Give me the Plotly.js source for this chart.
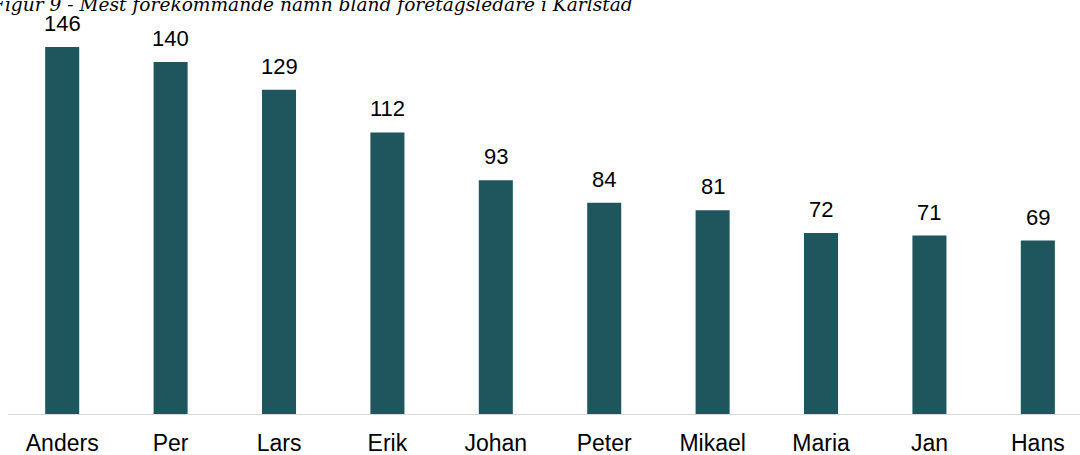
<!DOCTYPE html>
<html>
<head>
<meta charset="utf-8">
<script src="https://cdn.plot.ly/plotly-3.0.1.min.js"></script>
<style>html,body{margin:0;padding:0;overflow:hidden;background:#fff}#chart{width:1080px;height:455px}</style>
</head>
<body>
<div id="chart"></div>
<script>
const categories = ["Anders", "Per", "Lars", "Erik", "Johan", "Peter", "Mikael", "Maria", "Jan", "Hans"];
const values = [146, 140, 129, 112, 93, 84, 81, 72, 71, 69];
const titleText = "Figur 9 - Mest förekommande namn bland företagsledare i Karlstad";

const trace = {
  type: "bar",
  x: categories,
  y: values,
  width: 0.314,
  marker: { color: "#1F555C" },
  hoverinfo: "x+y"
};

const annotations = categories.map((c, i) => ({
  x: c, y: values[i], xref: "x", yref: "y",
  text: String(values[i]),
  showarrow: false, yanchor: "bottom", yshift: 9,
  font: { family: "Liberation Sans, Arial, sans-serif", size: 22, color: "#000000" }
}));
annotations.push({
  xref: "paper", yref: "paper", x: -0.0175, y: 1.0086,
  xanchor: "left", yanchor: "middle",
  text: "<i>" + titleText + "</i>", showarrow: false,
  font: { family: "DejaVu Serif, serif", size: 18.6, color: "#000000" }
});

const layout = {
  width: 1080, height: 455,
  margin: { l: 8, r: 0, t: 8, b: 41 },
  paper_bgcolor: "#ffffff", plot_bgcolor: "#ffffff",
  showlegend: false,
  xaxis: {
    type: "category", range: [-0.5, 9.389], autorange: false,
    showline: true, linecolor: "#D9D9D9", linewidth: 1.3,
    ticks: "", showgrid: false, zeroline: false,
    ticklabelstandoff: 8,
    tickfont: { family: "Liberation Sans, Arial, sans-serif", size: 23, color: "#000000" }
  },
  yaxis: {
    range: [0, 161.5], autorange: false, visible: false,
    showgrid: false, zeroline: false
  },
  annotations: annotations
};

Plotly.newPlot("chart", [trace], layout, { displayModeBar: false, staticPlot: true });
</script>
</body>
</html>
